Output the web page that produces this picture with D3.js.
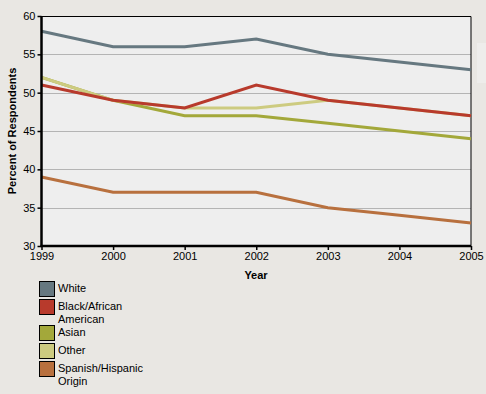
<!DOCTYPE html>
<html>
<head>
<meta charset="utf-8">
<script src="https://cdn.jsdelivr.net/npm/d3@7"></script>
<style>
  body { margin: 0; background: #e9e7e3; }
  svg { display: block; font-family: "Liberation Sans", Arial, sans-serif; }
</style>
</head>
<body>
<script>
// Chart data
var years = [1999, 2000, 2001, 2002, 2003, 2004, 2005];
var white = [58, 56, 56, 57, 55, 54, 53];
var black = [51, 49, 48, 51, 49, 48, 47];
var asian = [52, 49, 47, 47, 46, 45, 44];
var other = [52, 49, 48, 48, 49, 48, 47];
var spanish = [39, 37, 37, 37, 35, 34, 33];
var yTicks = [30, 35, 40, 45, 50, 55, 60];

var seriesNames = ["White", "Black/African American", "Asian", "Other", "Spanish/Hispanic Origin"];
var legendLines = [["White"], ["Black/African", "American"], ["Asian"], ["Other"], ["Spanish/Hispanic", "Origin"]];
var colors = ["#667880", "#b83a2c", "#a3a83a", "#cdcb80", "#b8703e"];
var seriesValues = [white, black, asian, other, spanish];
// draw order: lower layers first
var drawOrder = [0, 4, 2, 3, 1];

var svgWidth = 486, svgHeight = 394;
var margin = { top: 16, left: 41.5, right: 15, bottom: 148 };
var width = 471 - 41.5;
var height = 246 - 16;

var svg = d3.select("body").append("svg")
  .attr("width", svgWidth)
  .attr("height", svgHeight);

// cut-off panel at the right edge
svg.append("rect")
  .attr("x", 477).attr("y", 43).attr("width", 12).attr("height", 40)
  .attr("fill", "#eeedeb");

var g = svg.append("g").attr("transform", `translate(${margin.left},${margin.top})`);

var x = d3.scaleLinear().domain([1999, 2005]).range([0, width]);
var y = d3.scaleLinear().domain([30, 60]).range([height, 0]);

g.append("rect")
  .attr("width", width).attr("height", height)
  .attr("fill", "#eeeeee");

// grid lines
g.selectAll(".grid")
  .data(yTicks.slice(1, -1))
  .enter().append("line")
  .attr("x1", 0).attr("x2", width)
  .attr("y1", function (d) { return Math.round(y(d)) + 0.5; })
  .attr("y2", function (d) { return Math.round(y(d)) + 0.5; })
  .attr("stroke", "#b4b4b4").attr("stroke-width", 1);

// top and right border
g.append("path")
  .attr("d", `M0,0.5H${width}V${height}`)
  .attr("fill", "none").attr("stroke", "#000").attr("stroke-width", 1);

var line = d3.line()
  .x(function (d, i) { return x(years[i]); })
  .y(function (d) { return y(d); });

drawOrder.forEach(function (k) {
  g.append("path")
    .datum(seriesValues[k])
    .attr("d", line)
    .attr("fill", "none")
    .attr("stroke", colors[k])
    .attr("stroke-width", 3)
    .attr("stroke-linejoin", "miter");
});

// axes
var xAxis = d3.axisBottom(x).tickValues(years).tickFormat(d3.format("d")).tickSize(4).tickPadding(2);
var yAxis = d3.axisLeft(y).tickValues(yTicks).tickSize(4).tickPadding(2);

var xg = g.append("g").attr("transform", `translate(0,${height})`).call(xAxis);
var yg = g.append("g").call(yAxis);

[xg, yg].forEach(function (a) {
  a.select(".domain").attr("stroke", "#000").attr("stroke-width", 2.5);
  a.selectAll(".tick line").attr("stroke", "#000").attr("stroke-width", 1.5);
  a.selectAll(".tick text").attr("font-size", 11).attr("fill", "#000")
    .attr("font-family", "Liberation Sans, Arial, sans-serif");
});
xg.select(".domain").attr("d", `M-1,0H${width}`);
yg.select(".domain").attr("d", `M0,${height + 1}V0`);

// axis titles
svg.append("text")
  .attr("x", 256).attr("y", 279)
  .attr("text-anchor", "middle")
  .attr("font-size", 11).attr("font-weight", "bold")
  .text("Year");

svg.append("text")
  .attr("transform", "translate(16,131) rotate(-90)")
  .attr("text-anchor", "middle")
  .attr("font-size", 11).attr("font-weight", "bold")
  .text("Percent of Respondents");

// legend
var legendY = [281, 299, 325, 343, 361];
var legend = svg.append("g");
seriesNames.forEach(function (name, i) {
  legend.append("rect")
    .attr("x", 39.5).attr("y", legendY[i] + 0.5)
    .attr("width", 15).attr("height", 15)
    .attr("fill", colors[i])
    .attr("stroke", "#000").attr("stroke-width", 1);
  legendLines[i].forEach(function (t, j) {
    legend.append("text")
      .attr("x", 58).attr("y", legendY[i] + 11 + j * 13)
      .attr("font-size", 11)
      .attr("fill", "#000")
      .text(t);
  });
});
</script>
</body>
</html>
